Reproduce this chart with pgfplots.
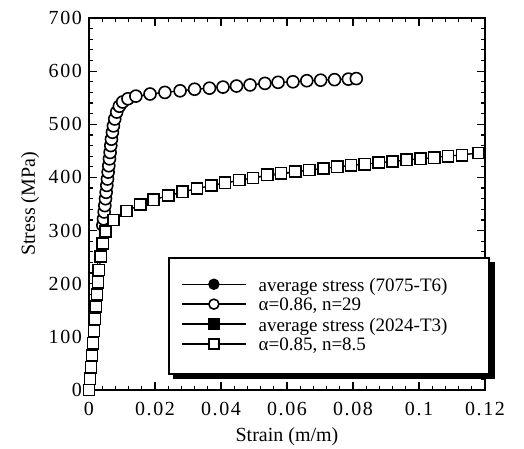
\documentclass[border=0pt]{standalone}
\usepackage{fontspec}
\setmainfont{Liberation Serif}
\newfontfamily\tickfont{Liberation Serif}[LetterSpace=8]
\usepackage{pgfplots}
\pgfplotsset{compat=1.18}
\usetikzlibrary{backgrounds}

\begin{document}
\begin{tikzpicture}
\begin{axis}[
    at={(0,0)}, anchor=south west,
    scale only axis, width=198pt, height=186pt,
    xmin=0, xmax=0.12, ymin=0, ymax=700,
    clip=false,
    xtick={0,0.02,0.04,0.06,0.08,0.1,0.12},
    xticklabels={0,0.02,0.04,0.06,0.08,0.1,0.12},
    ytick={0,100,200,300,400,500,600,700},
    yticklabels={0,100,200,300,400,500,600,700},
    minor x tick num=4, minor y tick num=4,
    tick align=inside,
    major tick length=4pt, minor tick length=2pt,
    axis line style={line width=1.1pt},
    tick style={line width=0.6pt, black},
    ticklabel style={font=\fontsize{10}{12}\tickfont},
    xticklabel style={yshift=-2.5pt},
    xlabel={Strain (m/m)}, ylabel={Stress (MPa)},
    label style={font=\fontsize{10}{12}\selectfont},
    xlabel style={at={(axis description cs:0.5,-0.126)}, anchor=center},
    ylabel style={at={(axis description cs:-0.149,0.5)}, anchor=center},
    legend style={name=leg, at={(axis cs:0.024,250)}, anchor=north west,
        draw=black, line width=1pt, fill=white,
        font=\fontsize{9.5}{11}\selectfont,
        inner xsep=6pt, inner ysep=9pt, row sep=0pt, column sep=5pt,
        nodes={inner sep=1pt}},
    legend cell align=left,
    legend image post style={mark size=2.5pt},
    legend image code/.code={\draw[line width=0.7pt, mark repeat=2, mark phase=2]
        plot coordinates {(0pt,1pt) (16pt,1pt) (32pt,1pt)};},
]

% average stress lines (experimental)
\addplot[forget plot, black, line width=0.5pt] coordinates {
    (0,0) (0.0049,450) (0.0062,492) (0.0076,520) (0.0095,538) (0.0120,548)
    (0.0185,557) (0.0276,563) (0.0406,570) (0.0533,577) (0.0660,582) (0.0810,586)
};
\addplot[forget plot, black, line width=0.5pt] coordinates {
    (0,0) (0.0030,226) (0.0042,276) (0.0050,298) (0.0074,320) (0.0114,337)
    (0.0195,358) (0.0327,379) (0.0497,399) (0.0710,417) (0.0920,430) (0.1180,446)
};

\addlegendimage{black, mark=*, mark options={solid, fill=black}}
\addlegendentry{average stress (7075-T6)\hspace*{14pt}}

\addplot[black, line width=0.5pt, mark=*, mark size=3pt,
    mark options={fill=white, line width=0.8pt}] coordinates {
    (0.0042,310) (0.0044,322) (0.0046,335) (0.0048,347) (0.0050,360) (0.0052,372)
    (0.0054,385) (0.0056,397) (0.0058,410) (0.0060,422) (0.0062,435) (0.0064,447)
    (0.0066,460) (0.0068,472) (0.0071,485) (0.0074,497) (0.0078,510) (0.0084,523)
    (0.0092,534) (0.0102,542) (0.0118,548) (0.0142,553) (0.0185,557) (0.0230,560)
    (0.0276,563) (0.0320,566) (0.0365,568) (0.0406,570) (0.0447,572) (0.0488,574)
    (0.0533,577) (0.0573,579) (0.0618,580) (0.0660,582) (0.0702,583) (0.0744,584)
    (0.0786,585) (0.0810,586)
};
\addlegendentry{α=0.86, n=29}

\addlegendimage{black, mark=square*, mark options={solid, fill=black}}
\addlegendentry{average stress (2024-T3)}

\addplot[black, line width=0.5pt, mark=square*, mark size=2.8pt,
    mark options={fill=white, line width=0.8pt}] coordinates {
    (0,0) (0.0003,21) (0.0006,43) (0.0009,65) (0.0012,88) (0.0015,111)
    (0.0018,134) (0.0021,157) (0.0024,180) (0.0027,203) (0.0030,226)
    (0.0036,251) (0.0042,276) (0.0050,298) (0.0074,320) (0.0114,337)
    (0.0155,349) (0.0195,358) (0.0240,366) (0.0283,373) (0.0327,379)
    (0.0370,385) (0.0412,390) (0.0455,395) (0.0497,399) (0.0540,405)
    (0.0582,408) (0.0625,411) (0.0667,414) (0.0710,417) (0.0752,420)
    (0.0794,423) (0.0836,425) (0.0878,428) (0.0920,430) (0.0962,433)
    (0.1004,435) (0.1046,437) (0.1088,440) (0.1130,442) (0.1180,446)
};
\addlegendentry{α=0.85, n=8.5}

\end{axis}
\begin{pgfonlayer}{background}
\fill[black] ([shift={(2.2pt,-2.2pt)}]leg.south west) rectangle ([shift={(2.2pt,-2.2pt)}]leg.north east);
\end{pgfonlayer}
\pgfresetboundingbox
\path[use as bounding box] (-44.5pt,-29.5pt) rectangle (217.5pt,195pt);
\end{tikzpicture}
\end{document}
